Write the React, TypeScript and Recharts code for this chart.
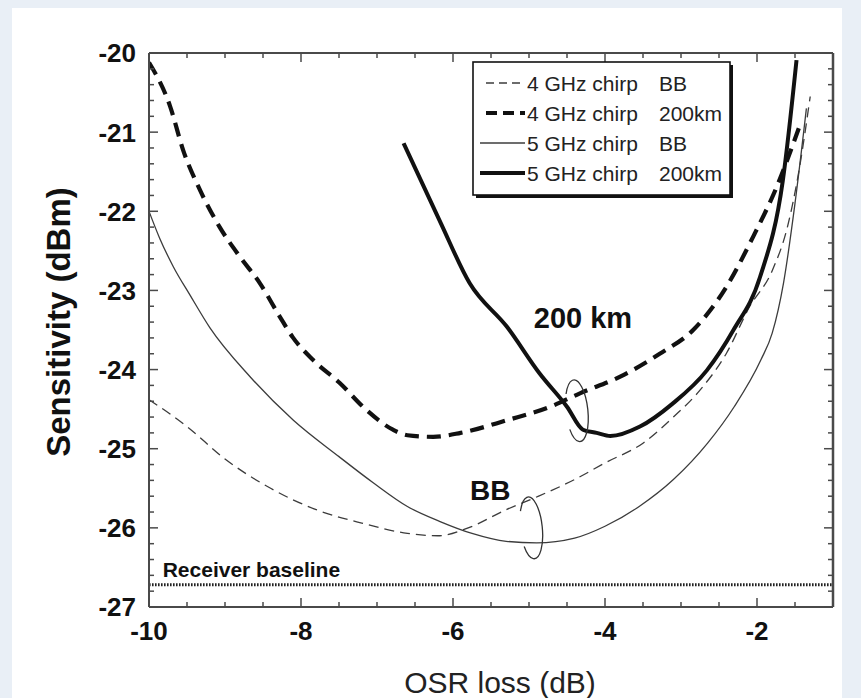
import React from "react";
import {
  LineChart,
  Line,
  XAxis,
  YAxis,
  ReferenceLine,
  ReferenceDot,
  Legend,
} from "recharts";

// OSR loss (dB) / sensitivity (dBm)
const bb4X = [-10, -9.5, -9, -8.4, -7.8, -7.2, -6.6, -6.2, -5.8, -5.3, -4.9, -4.4, -4.0, -3.5, -3.1, -2.75, -2.4, -2.1, -1.8, -1.6, -1.45, -1.3];
const bb4Y = [-24.38, -24.72, -25.13, -25.5, -25.77, -25.94, -26.07, -26.1, -26.0, -25.77, -25.61, -25.39, -25.18, -24.93, -24.6, -24.26, -23.79, -23.21, -22.75, -22.2, -21.5, -20.55];

const km4X = [-10, -9.72, -9.55, -9.33, -9.07, -8.8, -8.54, -8.28, -8.11, -7.84, -7.49, -7.14, -6.79, -6.6, -6.26, -5.9, -5.29, -4.72, -4.33, -3.8, -3.28, -2.84, -2.4, -2.05, -1.74, -1.45];
const km4Y = [-20.12, -20.68, -21.23, -21.73, -22.2, -22.58, -22.91, -23.33, -23.59, -23.88, -24.17, -24.51, -24.76, -24.83, -24.85, -24.8, -24.64, -24.47, -24.3, -24.09, -23.8, -23.5, -22.95, -22.32, -21.69, -20.95];

const bb5X = [-10, -9.86, -9.68, -9.46, -9.2, -8.67, -8.1, -7.5, -7.05, -6.6, -6.17, -5.75, -5.3, -4.9, -4.4, -4.0, -3.55, -3.1, -2.65, -2.3, -1.95, -1.8, -1.65, -1.5, -1.35];
const bb5Y = [-22.0, -22.34, -22.7, -23.06, -23.47, -24.09, -24.64, -25.1, -25.43, -25.73, -25.92, -26.07, -26.17, -26.19, -26.13, -25.98, -25.73, -25.39, -24.93, -24.47, -23.88, -23.54, -22.9, -21.9, -20.7];

const km5X = [-6.65, -6.17, -5.78, -5.29, -4.86, -4.5, -4.29, -4.11, -3.93, -3.54, -3.11, -2.66, -2.31, -1.96, -1.66, -1.48];
const km5Y = [-21.14, -22.13, -22.91, -23.46, -24.05, -24.47, -24.76, -24.8, -24.84, -24.72, -24.43, -24.01, -23.5, -22.83, -21.61, -20.09];

const baseline = -26.72;

const xLabels = [-10, -8, -6, -4, -2];
const yLabels = [-27, -26, -25, -24, -23, -22, -21, -20];

const xTicks = Array.from({ length: 19 }, (_, i) => -10 + i * 0.5);
const yTicks = Array.from({ length: 36 }, (_, i) => Math.round((-27 + i * 0.2) * 10) / 10);

const toPoints = (xs: number[], ys: number[]) => xs.map((x, i) => ({ osr: x, sens: ys[i] }));

const series = [
  { key: "bb4", chirp: "4 GHz chirp", link: "BB", data: toPoints(bb4X, bb4Y), width: 1.3, dash: "10 6", color: "#3c3c3c" },
  { key: "km4", chirp: "4 GHz chirp", link: "200km", data: toPoints(km4X, km4Y), width: 4.2, dash: "14 8", color: "#111" },
  { key: "bb5", chirp: "5 GHz chirp", link: "BB", data: toPoints(bb5X, bb5Y), width: 1.3, dash: undefined, color: "#3c3c3c" },
  { key: "km5", chirp: "5 GHz chirp", link: "200km", data: toPoints(km5X, km5Y), width: 4, dash: undefined, color: "#111" },
];

const FONT = '"Liberation Sans", Arial, Helvetica, sans-serif';
const AXIS = "#4a4a4a";

const BottomTick = (props: any) => {
  const { x, y, payload } = props;
  const major = xLabels.includes(payload.value);
  return (
    <g>
      <line x1={x} x2={x} y1={y} y2={y - (major ? 9 : 5)} stroke={AXIS} strokeWidth={1.5} />
      {major && (
        <text x={x} y={y + 33} textAnchor="middle" fontFamily={FONT} fontWeight="bold" fontSize={26} fill="#111">
          {payload.value}
        </text>
      )}
    </g>
  );
};

const TopTick = (props: any) => {
  const { x, y, payload } = props;
  const major = xLabels.includes(payload.value);
  return <line x1={x} x2={x} y1={y} y2={y + (major ? 9 : 5)} stroke={AXIS} strokeWidth={1.5} />;
};

const LeftTick = (props: any) => {
  const { x, y, payload } = props;
  const major = yLabels.includes(payload.value);
  return (
    <g>
      <line x1={x} x2={x + (major ? 9 : 5)} y1={y} y2={y} stroke={AXIS} strokeWidth={1.5} />
      {major && (
        <text x={x - 13} y={y} dy="0.36em" textAnchor="end" fontFamily={FONT} fontWeight="bold" fontSize={26} fill="#111">
          {payload.value}
        </text>
      )}
    </g>
  );
};

const RightTick = (props: any) => {
  const { x, y, payload } = props;
  const major = yLabels.includes(payload.value);
  return <line x1={x} x2={x - (major ? 9 : 5)} y1={y} y2={y} stroke={AXIS} strokeWidth={1.5} />;
};

// open ring drawn round a pair of curves
const Loop = (props: any) => {
  const { cx, cy } = props;
  const rx = 11;
  const ry = 31;
  const a0 = (145 * Math.PI) / 180;
  const a1 = (215 * Math.PI) / 180;
  const sx = cx + rx * Math.cos(a0);
  const sy = cy + ry * Math.sin(a0);
  const ex = cx + rx * Math.cos(a1);
  const ey = cy + ry * Math.sin(a1);
  return (
    <path
      d={`M${sx},${sy} A${rx},${ry} 0 1 0 ${ex},${ey}`}
      fill="none"
      stroke="#333"
      strokeWidth={1.3}
      transform={`rotate(-6 ${cx} ${cy})`}
    />
  );
};

const note = (text: string, size: number, anchor: string) => (props: any) => (
  <text x={props.cx} y={props.cy} dy="0.36em" textAnchor={anchor} fontFamily={FONT} fontWeight="bold" fontSize={size} fill="#111">
    {text}
  </text>
);

const LegendBox = () => (
  <svg width={272} height={146}>
    <rect x={10} y={9} width={257} height={133} fill="#111" />
    <rect x={7} y={6} width={257} height={133} fill="#fff" stroke="#111" strokeWidth={1.6} />
    {series.map((s, i) => {
      const cy = 27 + i * 30;
      return (
        <g key={s.key}>
          <line x1={s.dash ? 20 : 14} x2={59} y1={cy} y2={cy} stroke={s.color} strokeWidth={s.width} strokeDasharray={s.dash ? (s.width > 2 ? "11 6" : "8 5") : undefined} />
          <text x={61} y={cy} dy="0.36em" fontFamily={FONT} fontSize={21} fill="#222">{s.chirp}</text>
          <text x={193} y={cy} dy="0.36em" fontFamily={FONT} fontSize={21} fill="#222">{s.link}</text>
        </g>
      );
    })}
  </svg>
);

export default function App() {
  return (
    <div style={{ position: "absolute", left: 0, top: 0, width: 861, height: 698, background: "#e9eff6", overflow: "hidden" }}>
      <div style={{ position: "absolute", left: 12, top: 8, width: 830, height: 690, background: "#fff" }} />
      <div style={{ position: "absolute", left: 0, top: 0 }}>
        <LineChart width={861} height={698} margin={{ top: 23, right: 0, bottom: 0, left: 0 }}>
          <XAxis
            xAxisId="b"
            dataKey="osr"
            type="number"
            domain={[-10, -1]}
            allowDataOverflow
            ticks={xTicks}
            interval={0}
            tick={BottomTick}
            tickLine={false}
            tickSize={0}
            tickMargin={0}
            height={91}
            axisLine={{ stroke: AXIS, strokeWidth: 2 }}
            label={{
              content: (p: any) => (
                <text x={p.viewBox.x + p.viewBox.width / 2 + 9} y={p.viewBox.y + 86} textAnchor="middle" fontFamily={FONT} fontSize={30} fill="#222">
                  OSR loss (dB)
                </text>
              ),
            }}
          />
          <XAxis
            xAxisId="t"
            orientation="top"
            dataKey="osr"
            type="number"
            domain={[-10, -1]}
            allowDataOverflow
            ticks={xTicks}
            interval={0}
            tick={TopTick}
            tickLine={false}
            tickSize={0}
            tickMargin={0}
            height={30}
            axisLine={{ stroke: AXIS, strokeWidth: 2 }}
          />
          <YAxis
            yAxisId="l"
            type="number"
            domain={[-27, -20]}
            allowDataOverflow
            ticks={yTicks}
            interval={0}
            tick={LeftTick}
            tickLine={false}
            tickSize={0}
            tickMargin={0}
            width={149}
            axisLine={{ stroke: AXIS, strokeWidth: 2 }}
            label={{
              content: (p: any) => {
                const cx = 58;
                const cy = p.viewBox.y + p.viewBox.height / 2 - 8;
                return (
                  <text x={cx} y={cy} transform={`rotate(-90 ${cx} ${cy})`} textAnchor="middle" dominantBaseline="central" fontFamily={FONT} fontWeight="bold" fontSize={33} fill="#111">
                    Sensitivity (dBm)
                  </text>
                );
              },
            }}
          />
          <YAxis
            yAxisId="r"
            orientation="right"
            type="number"
            domain={[-27, -20]}
            allowDataOverflow
            ticks={yTicks}
            interval={0}
            tick={RightTick}
            tickLine={false}
            tickSize={0}
            tickMargin={0}
            width={28}
            axisLine={{ stroke: AXIS, strokeWidth: 2.5 }}
          />
          <Legend
            layout="horizontal"
            verticalAlign="middle"
            align="center"
            content={LegendBox}
            wrapperStyle={{ position: "absolute", left: 466, top: 56, width: 272, height: 146 }}
          />
          <ReferenceLine xAxisId="b" yAxisId="l" y={baseline} stroke="#222" strokeWidth={3} strokeDasharray="1.6 1.4" />
          {series.map((s) => (
            <Line
              key={s.key}
              xAxisId="b"
              yAxisId="l"
              data={s.data}
              dataKey="sens"
              name={`${s.chirp} ${s.link}`}
              type="monotone"
              stroke={s.color}
              strokeWidth={s.width}
              strokeDasharray={s.dash}
              dot={false}
              activeDot={false}
              isAnimationActive={false}
            />
          ))}
          <ReferenceDot xAxisId="b" yAxisId="l" x={-4.37} y={-24.52} r={0} shape={Loop} />
          <ReferenceDot xAxisId="b" yAxisId="l" x={-4.97} y={-26.0} r={0} shape={Loop} />
          <ReferenceDot xAxisId="b" yAxisId="l" x={-4.29} y={-23.34} r={0} shape={note("200 km", 29, "middle")} />
          <ReferenceDot xAxisId="b" yAxisId="l" x={-5.51} y={-25.52} r={0} shape={note("BB", 28, "middle")} />
          <ReferenceDot xAxisId="b" yAxisId="l" x={-9.82} y={-26.53} r={0} shape={note("Receiver baseline", 21, "start")} />
        </LineChart>
      </div>
    </div>
  );
}
